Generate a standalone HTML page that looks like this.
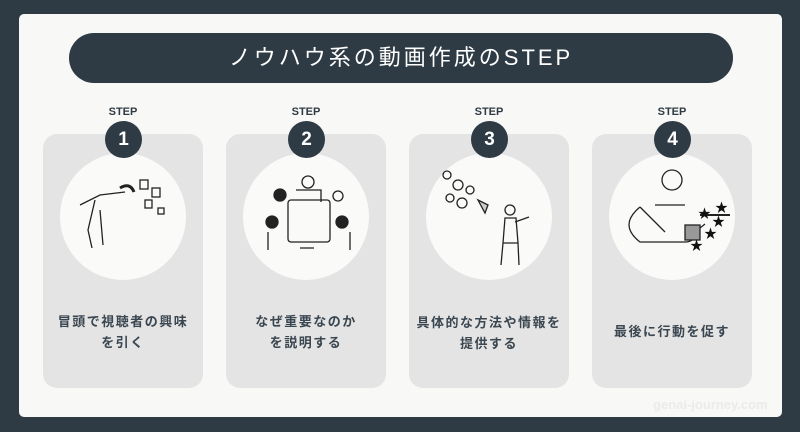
<!DOCTYPE html>
<html><head><meta charset="utf-8"><style>
*{margin:0;padding:0;box-sizing:border-box}
body{width:800px;height:432px;background:#2e3b44;position:relative;overflow:hidden;font-family:"Liberation Sans","Noto Sans CJK JP",sans-serif}
.panel{position:absolute;left:19px;top:14px;width:763px;height:403px;background:#f8f8f7;border-radius:5px}
.title{position:absolute;left:69px;top:33px;width:664px;height:50px;background:#2e3b44;border-radius:25px;color:#fff;font-size:22px;font-weight:normal;text-align:center;line-height:50px;letter-spacing:3px}
.card{position:absolute;top:134px;width:160px;height:254px;background:#e4e4e4;border-radius:14px}
.circ{position:absolute;left:17px;top:19px;width:126px;height:127px;border-radius:50%;background:#fafaf9}
.step{position:absolute;width:60px;text-align:center;top:106px;font-size:11px;font-weight:bold;color:#2e3b44}
.num{position:absolute;top:121px;width:37px;height:37px;border-radius:50%;background:#2e3b44;color:#fff;font-weight:bold;font-size:19px;text-align:center;line-height:37px}
.txt{position:absolute;left:0;width:160px;text-align:center;font-size:13px;font-weight:bold;color:#3a4650;letter-spacing:1.5px;line-height:21px}
.wm{position:absolute;left:653px;top:397px;font-size:13px;font-weight:bold;color:#ebebe9}
svg{position:absolute;left:0;top:0}
</style></head><body>
<div class="panel"></div>
<div class="title">ノウハウ系の動画作成のSTEP</div>

<div class="card" style="left:43px"><div class="circ"></div><div class="txt" style="top:177px">冒頭で視聴者の興味<br>を引く</div></div>
<div class="card" style="left:226px"><div class="circ"></div><div class="txt" style="top:177px">なぜ重要なのか<br>を説明する</div></div>
<div class="card" style="left:409px"><div class="circ"></div><div class="txt" style="top:178px">具体的な方法や情報を<br>提供する</div></div>
<div class="card" style="left:592px"><div class="circ"></div><div class="txt" style="top:187px">最後に行動を促す</div></div>

<div class="step" style="left:93px">STEP</div><div class="num" style="left:105px">1</div>
<div class="step" style="left:276px">STEP</div><div class="num" style="left:288px">2</div>
<div class="step" style="left:459px">STEP</div><div class="num" style="left:471px">3</div>
<div class="step" style="left:642px">STEP</div><div class="num" style="left:654px">4</div>

<svg width="800" height="432" fill="none" stroke="#222" stroke-width="1.3">
<path d="M80 205 L100 195 L125 192 M95 200 L88 230 L92 248 M100 210 L103 245"/>
<rect x="140" y="180" width="8" height="9"/><rect x="152" y="188" width="8" height="9"/><rect x="145" y="200" width="7" height="8"/><rect x="158" y="208" width="6" height="6"/>
<path d="M120 188 q10 -6 14 4" stroke-width="3"/>
<rect x="288" y="200" width="42" height="42" rx="3"/>
<circle cx="308" cy="182" r="6"/><circle cx="280" cy="195" r="6" fill="#222"/><circle cx="338" cy="196" r="5"/><circle cx="272" cy="222" r="6" fill="#222"/><circle cx="342" cy="222" r="6" fill="#222"/>
<path d="M296 190 h25 v12 M268 232 v18 M350 232 v18 M300 248 h14"/>
<circle cx="447" cy="175" r="4"/><circle cx="458" cy="185" r="5"/><circle cx="450" cy="198" r="4"/><circle cx="462" cy="203" r="5"/><circle cx="470" cy="190" r="4"/>
<path d="M478 200 l10 5 l-3 8 z" fill="#ccc"/>
<circle cx="510" cy="210" r="5"/><path d="M505 218 l-2 25 h15 l-2 -25 z M503 243 l-2 22 M518 243 l1 22 M515 222 l14 -5"/>
<circle cx="672" cy="180" r="10"/><path d="M640 207 q-22 18 0 35 h45 q10 0 10 -10 l10 -8 M640 207 l25 25 M655 205 l30 0"/>
<rect x="685" y="225" width="15" height="15" fill="#999"/>
<path d="M700 215 l30 0" stroke-width="2"/>
<g fill="#111" stroke="none" font-size="13"><text x="698" y="218">★</text><text x="712" y="226">★</text><text x="704" y="238">★</text><text x="690" y="250">★</text><text x="715" y="212">★</text></g>
</svg>
<div class="wm">genai-journey.com</div>
</body></html>
